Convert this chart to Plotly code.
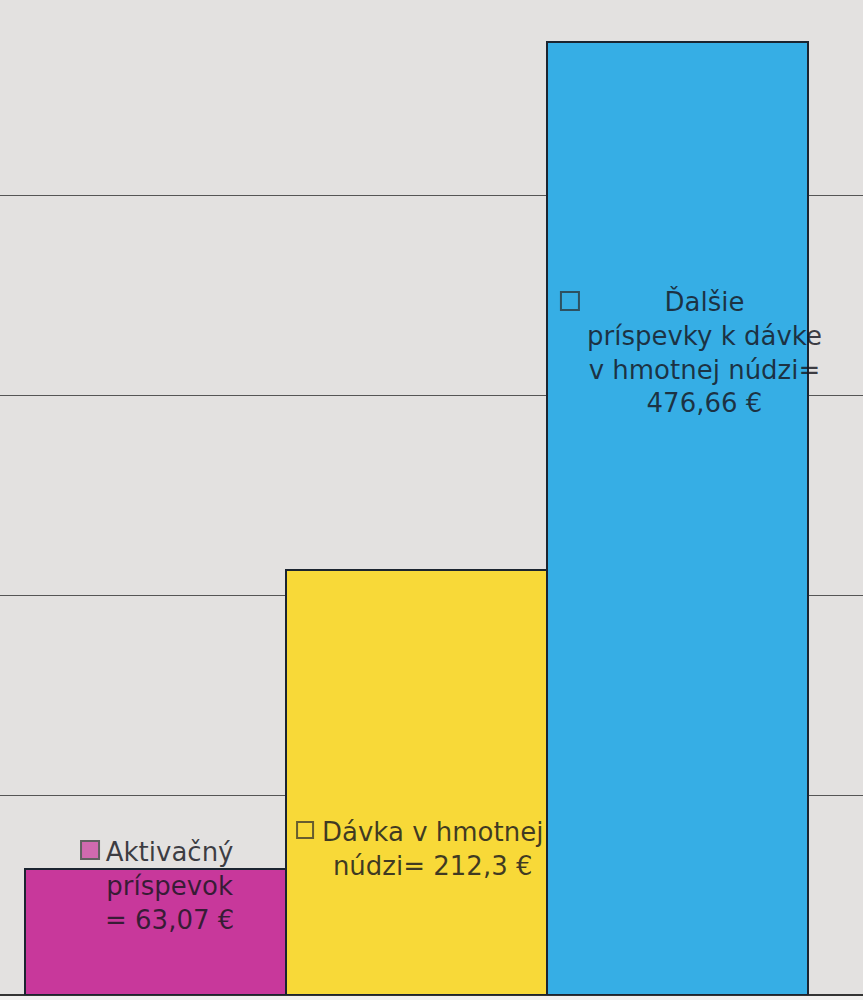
import plotly.graph_objects as go

categories = ["Aktivačný príspevok", "Dávka v hmotnej núdzi", "Ďalšie príspevky k dávke v hmotnej núdzi"]
values = [63.07, 212.3, 476.66]
label_texts = [
    "Aktivačný<br>príspevok<br>= 63,07 €",
    "Dávka v hmotnej<br>núdzi= 212,3 €",
    "Ďalšie<br>príspevky k dávke<br>v hmotnej núdzi=<br>476,66 €",
]
y_ticks = [0, 100, 200, 300, 400]

bar_colors = ["#c8389b", "#f8d938", "#36aee5"]
key_fill = ["#c8389b", "rgba(0,0,0,0)", "rgba(0,0,0,0)"]
label_dx = [0.055, 0.063, 0.105]
label_y = [54.5, 73.0, 321.5]
key_x = [-0.251, 0.573, 1.588]
key_y = [72.5, 82.5, 347.0]
key_size = [18, 16, 18]

x = list(range(len(categories)))

fig = go.Figure()
fig.add_trace(go.Bar(
    x=x, y=values, width=1.0,
    marker=dict(color=bar_colors, line=dict(color="#1b2430", width=2)),
    hoverinfo="skip", showlegend=False,
))
fig.add_trace(go.Scatter(
    x=key_x, y=key_y, mode="markers",
    marker=dict(symbol="square", size=key_size, color=key_fill,
                line=dict(color="#2a2a2a", width=2)),
    hoverinfo="skip", showlegend=False,
))

for i, t in enumerate(label_texts):
    fig.add_annotation(
        x=x[i] + label_dx[i], y=label_y[i], text=t, showarrow=False,
        xanchor="center", yanchor="middle", align="center",
        font=dict(family="DejaVu Sans", size=26, color="rgba(22,22,30,0.82)"),
    )

fig.update_layout(
    width=863, height=1000,
    margin=dict(l=0, r=0, t=0, b=5),
    paper_bgcolor="#f2f1f0",
    plot_bgcolor="#e3e1e0",
    bargap=0,
    xaxis=dict(range=[-0.596, 2.711], showticklabels=False, showgrid=False,
               zeroline=False, showline=False, ticks=""),
    yaxis=dict(range=[0, 497.5], tickvals=y_ticks, showticklabels=False,
               showgrid=True, gridcolor="#555555", gridwidth=1,
               zeroline=True, zerolinecolor="#333333", zerolinewidth=2,
               showline=False, ticks=""),
)

fig.write_html("out.html", config={"displayModeBar": False},
               post_script="document.body.style.margin='0';")
